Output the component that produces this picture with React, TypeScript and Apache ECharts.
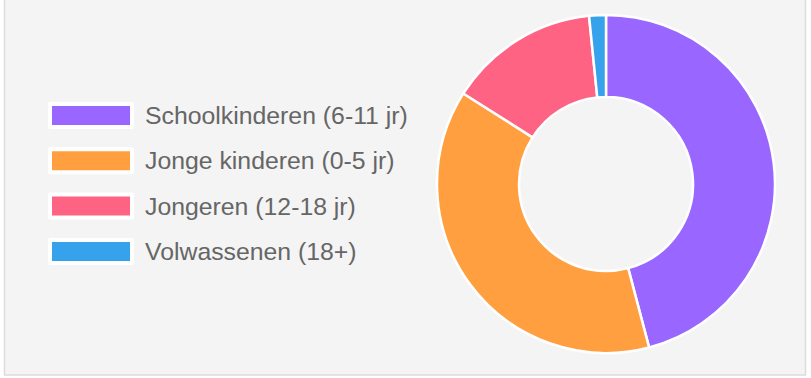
import React, { useEffect, useRef } from "react";
import * as echarts from "echarts";

const categories = [
  "Schoolkinderen (6-11 jr)",
  "Jonge kinderen (0-5 jr)",
  "Jongeren (12-18 jr)",
  "Volwassenen (18+)",
];
const values = [45.9, 38.1, 14.4, 1.6];
const colors = ["#9966FF", "#FF9F40", "#FF6384", "#36A2EB"];

export default function App() {
  const ref = useRef<HTMLDivElement>(null);
  useEffect(() => {
    if (!ref.current) return;
    const chart = echarts.init(ref.current, null, { renderer: "svg" });
    chart.setOption({
      animation: false,
      backgroundColor: "#ffffff",
      graphic: [
        {
          type: "rect",
          silent: true,
          z: -10,
          shape: { x: 4.5, y: -3, width: 801, height: 378 },
          style: { fill: "#f4f4f4", stroke: "#dcdcdc", lineWidth: 1.5 },
        },
      ],
      legend: {
        orient: "vertical",
        left: 48,
        top: 102,
        padding: 0,
        icon: "rect",
        itemWidth: 82,
        itemHeight: 23,
        itemGap: 18.3,
        itemStyle: { borderColor: "#ffffff", borderWidth: 4 },
        textStyle: {
          fontFamily: "'Liberation Sans', Arial, sans-serif",
          fontSize: 24.8,
          lineHeight: 25,
          color: "#666666",
          padding: [0, 0, 0, 8],
        },
        data: categories,
      },
      series: [
        {
          type: "pie",
          center: [606, 184],
          radius: [87, 169],
          startAngle: 90,
          clockwise: true,
          label: { show: false },
          labelLine: { show: false },
          emphasis: { disabled: true },
          itemStyle: { borderColor: "#ffffff", borderWidth: 2.5 },
          data: categories.map((name, i) => ({
            name,
            value: values[i],
            itemStyle: { color: colors[i] },
          })),
        },
      ],
    });
    return () => chart.dispose();
  }, []);
  return (
    <div
      ref={ref}
      style={{ position: "fixed", left: 0, top: 0, width: 811, height: 378 }}
    />
  );
}
